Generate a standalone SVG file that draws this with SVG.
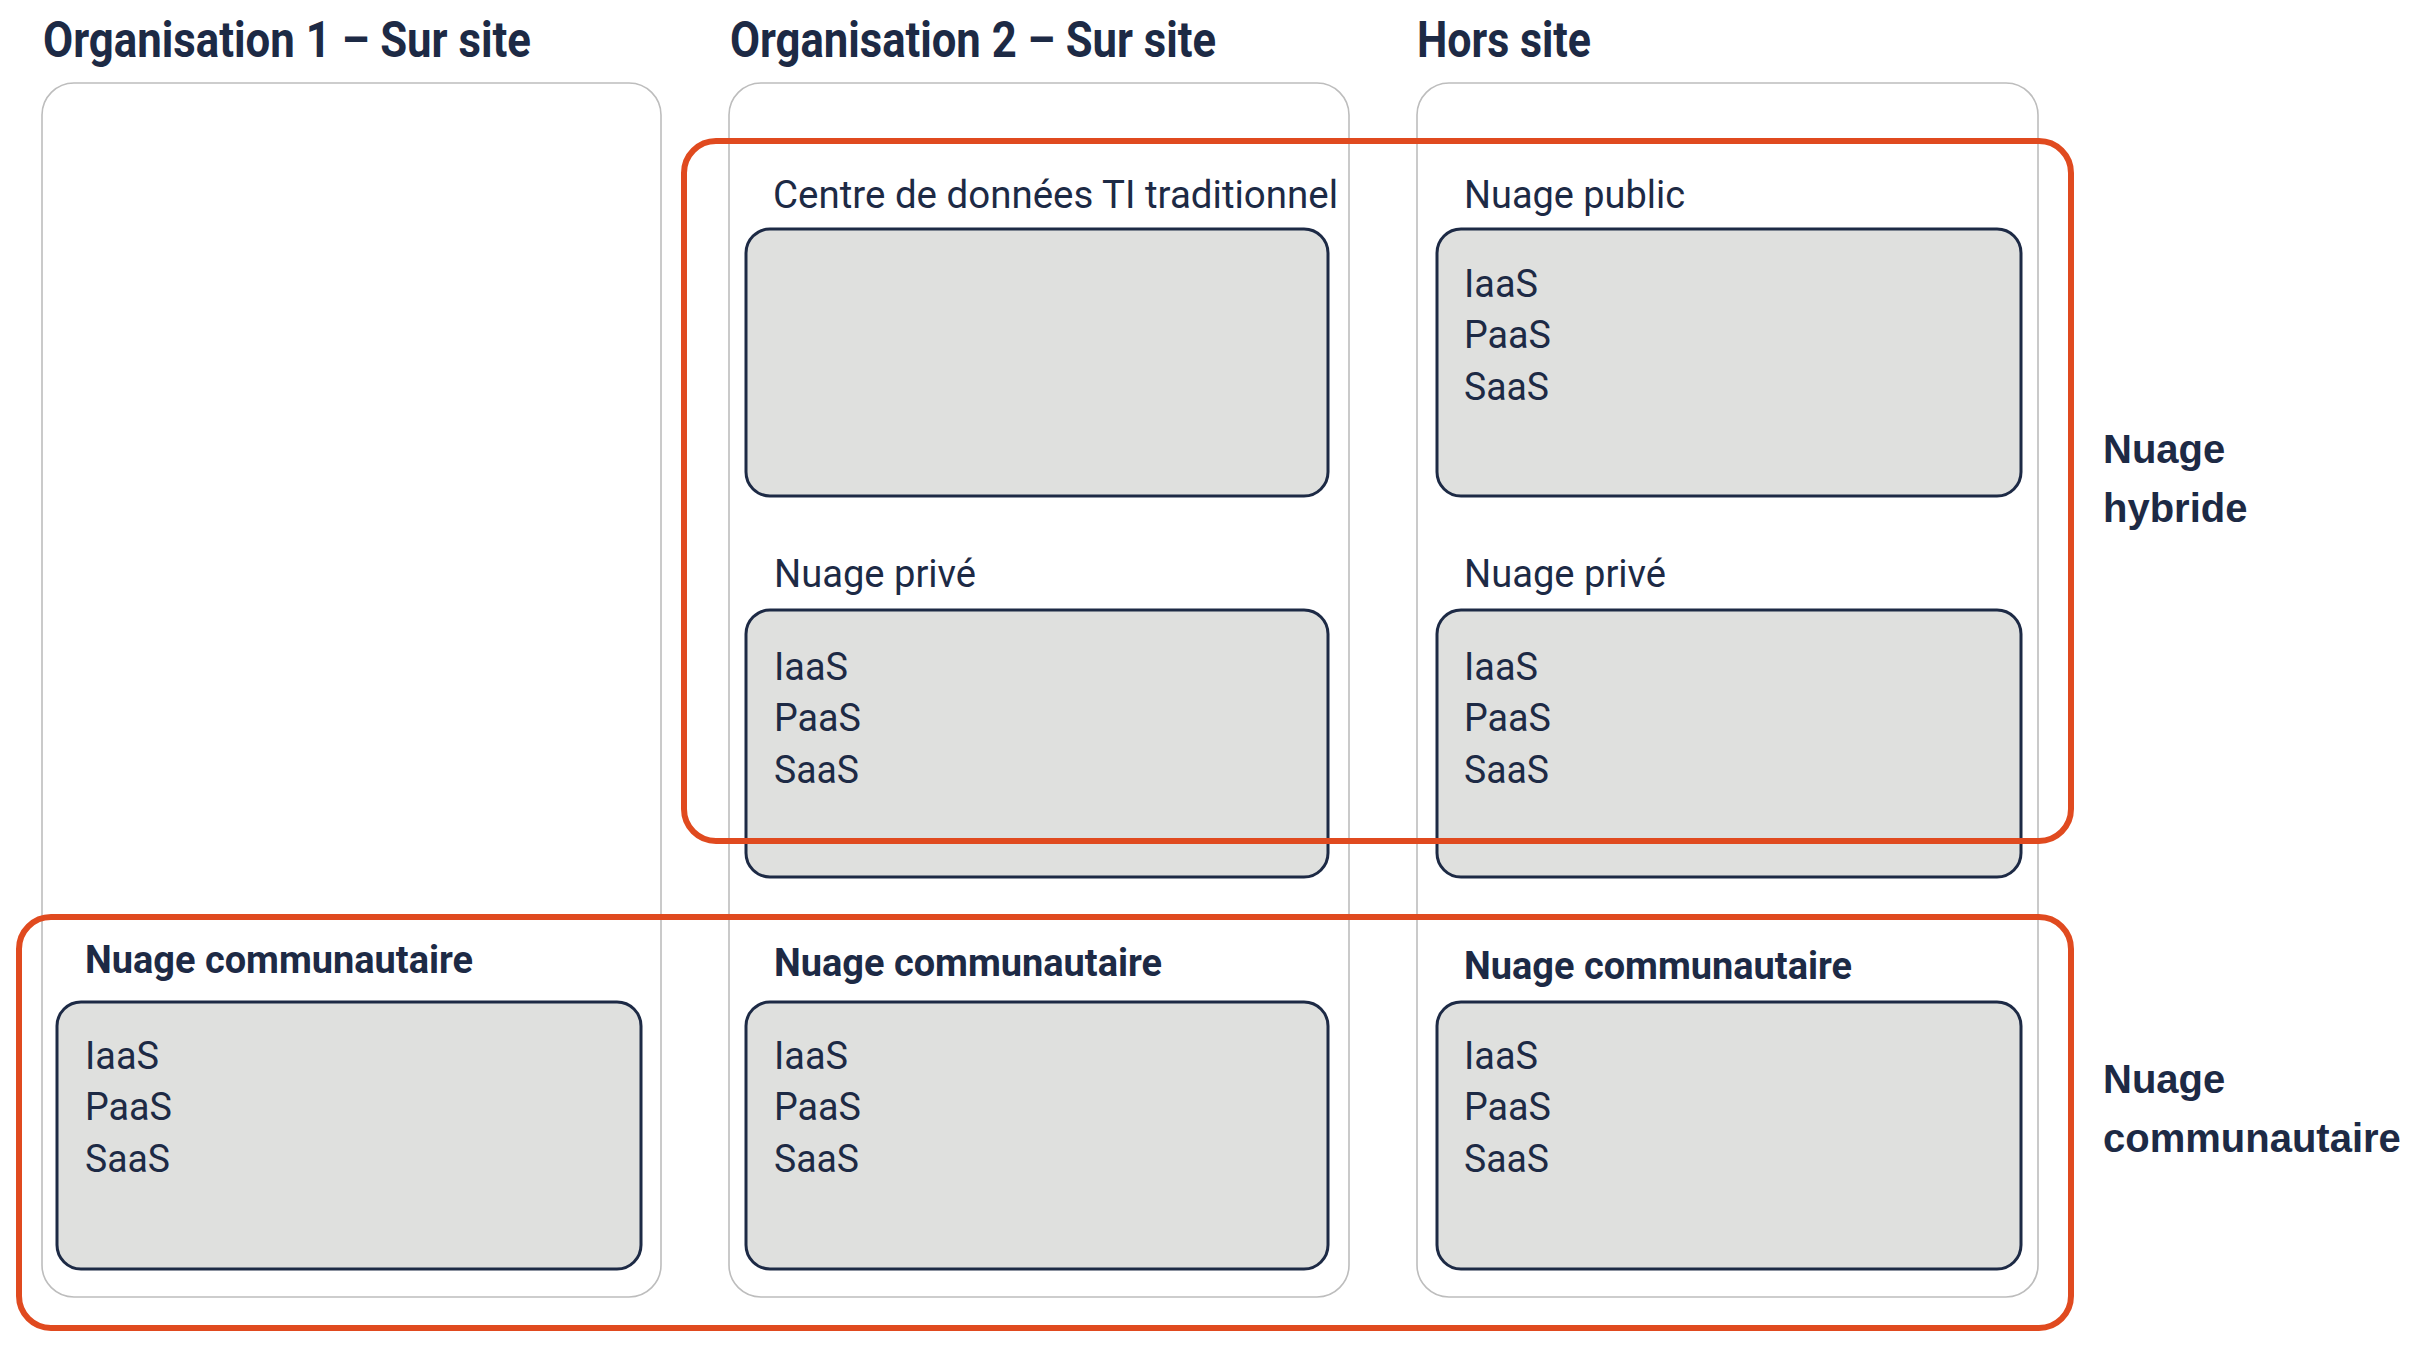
<svg xmlns="http://www.w3.org/2000/svg" width="2421" height="1353" viewBox="0 0 2421 1353">
<style>
.col{fill:#fff;stroke:#bdbdbd;stroke-width:1.6}
.box{fill:#dfe0de;stroke:#1d2a45;stroke-width:3}
.ora{fill:none;stroke:#e04a1f;stroke-width:6}
.t{font-family:Roboto,"Liberation Sans",sans-serif;fill:#1d2a45}
.title{font-size:50px;font-weight:700}
.lbl{font-size:39px;font-weight:400}
.lblb{font-size:39px;font-weight:700}
.side{font-family:"Liberation Sans",Arial,sans-serif;font-size:40px;font-weight:700;fill:#1d2a45}
</style>
<rect width="2421" height="1353" fill="#fff"/>
<g id="titles">
<text class="t title" x="43" y="57" textLength="488" lengthAdjust="spacingAndGlyphs">Organisation 1 – Sur site</text>
<text class="t title" x="730" y="57" textLength="486" lengthAdjust="spacingAndGlyphs">Organisation 2 – Sur site</text>
<text class="t title" x="1417" y="57" textLength="174" lengthAdjust="spacingAndGlyphs">Hors site</text>
</g>
<g id="col1"><rect class="col" x="42" y="83" width="619" height="1214" rx="32"/></g>
<g id="col2"><rect class="col" x="729" y="83" width="620" height="1214" rx="32"/></g>
<g id="col3"><rect class="col" x="1417" y="83" width="621" height="1214" rx="32"/></g>

<g id="centre">
<text class="t lbl" x="773" y="208" textLength="565" lengthAdjust="spacingAndGlyphs">Centre de données TI traditionnel</text>
<rect class="box" x="746" y="229" width="582" height="267" rx="24"/>
</g>
<g id="public">
<text class="t lbl" x="1464" y="208" textLength="221" lengthAdjust="spacingAndGlyphs">Nuage public</text>
<rect class="box" x="1437" y="229" width="584" height="267" rx="24"/>
<text class="t lbl" x="1464" y="297" textLength="74" lengthAdjust="spacingAndGlyphs">IaaS</text>
<text class="t lbl" x="1464" y="348" textLength="87" lengthAdjust="spacingAndGlyphs">PaaS</text>
<text class="t lbl" x="1464" y="400" textLength="85" lengthAdjust="spacingAndGlyphs">SaaS</text>
</g>
<g id="prive2">
<text class="t lbl" x="774" y="587" textLength="202" lengthAdjust="spacingAndGlyphs">Nuage privé</text>
<rect class="box" x="746" y="610" width="582" height="267" rx="24"/>
<text class="t lbl" x="774" y="680" textLength="74" lengthAdjust="spacingAndGlyphs">IaaS</text>
<text class="t lbl" x="774" y="731" textLength="87" lengthAdjust="spacingAndGlyphs">PaaS</text>
<text class="t lbl" x="774" y="783" textLength="85" lengthAdjust="spacingAndGlyphs">SaaS</text>
</g>
<g id="prive3">
<text class="t lbl" x="1464" y="587" textLength="202" lengthAdjust="spacingAndGlyphs">Nuage privé</text>
<rect class="box" x="1437" y="610" width="584" height="267" rx="24"/>
<text class="t lbl" x="1464" y="680" textLength="74" lengthAdjust="spacingAndGlyphs">IaaS</text>
<text class="t lbl" x="1464" y="731" textLength="87" lengthAdjust="spacingAndGlyphs">PaaS</text>
<text class="t lbl" x="1464" y="783" textLength="85" lengthAdjust="spacingAndGlyphs">SaaS</text>
</g>
<g id="comm1">
<text class="t lblb" x="85" y="973" textLength="388" lengthAdjust="spacingAndGlyphs">Nuage communautaire</text>
<rect class="box" x="57" y="1002" width="584" height="267" rx="24"/>
<text class="t lbl" x="85" y="1069" textLength="74" lengthAdjust="spacingAndGlyphs">IaaS</text>
<text class="t lbl" x="85" y="1120" textLength="87" lengthAdjust="spacingAndGlyphs">PaaS</text>
<text class="t lbl" x="85" y="1172" textLength="85" lengthAdjust="spacingAndGlyphs">SaaS</text>
</g>
<g id="comm2">
<text class="t lblb" x="774" y="976" textLength="388" lengthAdjust="spacingAndGlyphs">Nuage communautaire</text>
<rect class="box" x="746" y="1002" width="582" height="267" rx="24"/>
<text class="t lbl" x="774" y="1069" textLength="74" lengthAdjust="spacingAndGlyphs">IaaS</text>
<text class="t lbl" x="774" y="1120" textLength="87" lengthAdjust="spacingAndGlyphs">PaaS</text>
<text class="t lbl" x="774" y="1172" textLength="85" lengthAdjust="spacingAndGlyphs">SaaS</text>
</g>
<g id="comm3">
<text class="t lblb" x="1464" y="979" textLength="388" lengthAdjust="spacingAndGlyphs">Nuage communautaire</text>
<rect class="box" x="1437" y="1002" width="584" height="267" rx="24"/>
<text class="t lbl" x="1464" y="1069" textLength="74" lengthAdjust="spacingAndGlyphs">IaaS</text>
<text class="t lbl" x="1464" y="1120" textLength="87" lengthAdjust="spacingAndGlyphs">PaaS</text>
<text class="t lbl" x="1464" y="1172" textLength="85" lengthAdjust="spacingAndGlyphs">SaaS</text>
</g>
<g id="hybride">
<rect class="ora" x="684" y="141" width="1387" height="700" rx="32"/>
<text class="side" x="2103" y="463">Nuage</text>
<text class="side" x="2103" y="522">hybride</text>
</g>
<g id="communautaire">
<rect class="ora" x="19" y="917" width="2052" height="411" rx="32"/>
<text class="side" x="2103" y="1093">Nuage</text>
<text class="side" x="2103" y="1152">communautaire</text>
</g>
<g id="connectors"></g>
</svg>
